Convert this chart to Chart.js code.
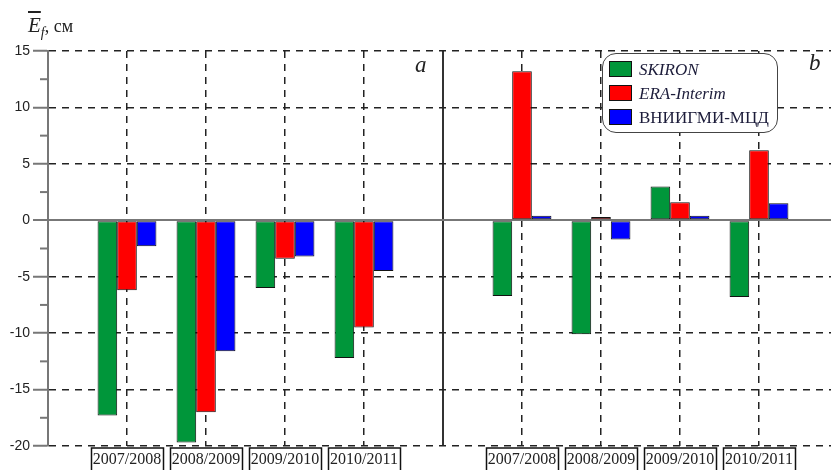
<!DOCTYPE html>
<html>
<head>
<meta charset="utf-8">
<script src="https://cdn.jsdelivr.net/npm/chart.js@4/dist/chart.umd.min.js"></script>
<style>
  html, body { margin: 0; padding: 0; background: #fff; overflow: hidden; }
  #wrap { position: absolute; left: 0; top: 0; width: 842px; height: 470px; }
  .ylab { position: absolute; left: 28px; top: 13px; font-family: "Liberation Serif", serif; font-size: 18px; color: #222; white-space: nowrap; }
  .ylab .e { font-style: italic; font-size: 21px; text-decoration: overline; text-decoration-thickness: 1.5px; }
  .ylab sub { font-style: italic; font-size: 14px; }
  .panel { position: absolute; font-family: "Liberation Serif", serif; font-style: italic; font-size: 23px; color: #222; }
  #legend { position: absolute; left: 602px; top: 53px; width: 174px; height: 78px; border: 1.5px solid #444; border-radius: 14px; background: #fff; font-family: "Liberation Serif", serif; font-size: 17px; color: #1c1c3a; }
  #legend .row { position: absolute; left: 6px; height: 17px; line-height: 17px; white-space: nowrap; }
  #legend .sw { display: inline-block; width: 21px; height: 14px; border: 1px solid #111; vertical-align: -2px; margin-right: 7px; }
</style>
</head>
<body>
<div id="wrap"><canvas id="myChart"></canvas></div>
<div class="ylab"><span class="e">E</span><sub>f</sub>, см</div>
<div class="panel" style="left:415px; top:52px;">a</div>
<div class="panel" style="left:809px; top:50px;">b</div>
<div id="legend"></div>
<script>
const seasons = ["2007/2008", "2008/2009", "2009/2010", "2010/2011"];
const seriesNames = ["SKIRON", "ERA-Interim", "ВНИИГМИ-МЦД"];
const seriesColors = ["#00963a", "#ff0000", "#0000ff"];
const italicNames = [true, true, false];

// panel a
const skironA = [-17.3, -19.7, -6.0, -12.2];
const eraA = [-6.2, -17.0, -3.4, -9.5];
const vniigmiA = [-2.3, -11.6, -3.2, -4.5];

// panel b
const skironB = [-6.7, -10.1, 3.0, -6.8];
const eraB = [13.2, 0.3, 1.6, 6.2];
const vniigmiB = [0.4, -1.7, 0.4, 1.5];

const yTicksMin = -20;
const yTicksMax = 15;

// two panels on one category axis, separated by empty slots
const labels = ["", ...seasons, "", ...seasons, ""];
const join = (a, b) => [null, ...a, null, ...b, null];
const seriesData = [join(skironA, skironB), join(eraA, eraB), join(vniigmiA, vniigmiB)];

// html legend
const legendEl = document.getElementById("legend");
seriesNames.forEach((name, i) => {
  const row = document.createElement("div");
  row.className = "row";
  row.style.top = (7 + i * 24) + "px";
  row.innerHTML = '<span class="sw" style="background:' + seriesColors[i] + '"></span>' +
    '<span style="font-style:' + (italicNames[i] ? "italic" : "normal") + '">' + name + "</span>";
  legendEl.appendChild(row);
});

const isMajor = (v) => Math.abs(v % 5) < 1e-6;

const extras = {
  id: "extras",
  afterDraw(chart) {
    const { ctx, scales } = chart;
    const y = scales.y;
    const x = scales.x;
    ctx.save();
    // minor ticks on the left axis
    ctx.strokeStyle = "#777";
    ctx.lineWidth = 2;
    y.ticks.forEach((t) => {
      if (!isMajor(t.value)) {
        const py = y.getPixelForValue(t.value);
        ctx.beginPath();
        ctx.moveTo(y.right - 8, py);
        ctx.lineTo(y.right, py);
        ctx.stroke();
      }
    });
    // boxes round the season labels
    ctx.font = '16px "Liberation Serif"';
    ctx.strokeStyle = "#111";
    ctx.lineWidth = 1.5;
    const top = y.getPixelForValue(yTicksMin) + 2;
    x.ticks.forEach((t, i) => {
      const lab = labels[i];
      if (!lab) return;
      const px = x.getPixelForTick(i);
      const w = ctx.measureText(lab).width;
      ctx.strokeRect(Math.round(px - w / 2 - 2) + 0.5, top, Math.round(w + 4), 40);
    });
    ctx.restore();
  },
};

const config = {
  type: "bar",
  data: {
    labels: labels,
    datasets: seriesNames.map((name, i) => ({
      label: name,
      data: seriesData[i],
      backgroundColor: seriesColors[i],
      borderColor: "#111",
      borderWidth: 1,
      borderSkipped: false,
      barPercentage: 1,
      categoryPercentage: 0.745,
    })),
  },
  options: {
    responsive: true,
    maintainAspectRatio: false,
    animation: false,
    layout: { padding: { top: 51, right: 2, left: 0, bottom: 0 } },
    plugins: {
      legend: { display: false },
      tooltip: { enabled: false },
    },
    scales: {
      x: {
        offset: false,
        afterFit: (scale) => { scale.height = 24; },
        grid: {
          offset: false,
          drawTicks: false,
          color: (c) => (c.index === 5 ? "#333" : c.index % 5 === 0 ? "transparent" : "#222"),
          lineWidth: (c) => (c.index === 5 ? 2 : 1.5),
        },
        border: {
          display: false,
          dash: (c) => (c.index === 5 ? [] : [7, 6]),
        },
        ticks: {
          autoSkip: false,
          maxRotation: 0,
          padding: 4,
          color: "#222",
          font: { family: "Liberation Serif", size: 16 },
        },
      },
      y: {
        min: yTicksMin,
        max: yTicksMax,
        afterFit: (scale) => { scale.width = 48; },
        grid: {
          tickLength: 15,
          color: (c) => (!c.tick || !isMajor(c.tick.value) ? "transparent" : c.tick.value === 0 ? "#777" : "#222"),
          lineWidth: (c) => (c.tick && c.tick.value === 0 ? 2 : 1.5),
          tickColor: (c) => (c.tick && isMajor(c.tick.value) ? "#777" : "transparent"),
          tickWidth: 2,
        },
        border: {
          display: true,
          color: "#777",
          width: 2,
          dash: (c) => (c.tick && c.tick.value === 0 ? [] : [7, 6]),
        },
        ticks: {
          stepSize: 2.5,
          padding: 3,
          color: "#222",
          font: { family: "Liberation Sans", size: 14 },
          callback: (v) => (isMajor(v) ? v : ""),
        },
      },
    },
  },
  plugins: [extras],
};

const myChart = new Chart(document.getElementById("myChart"), config);
</script>
</body>
</html>
